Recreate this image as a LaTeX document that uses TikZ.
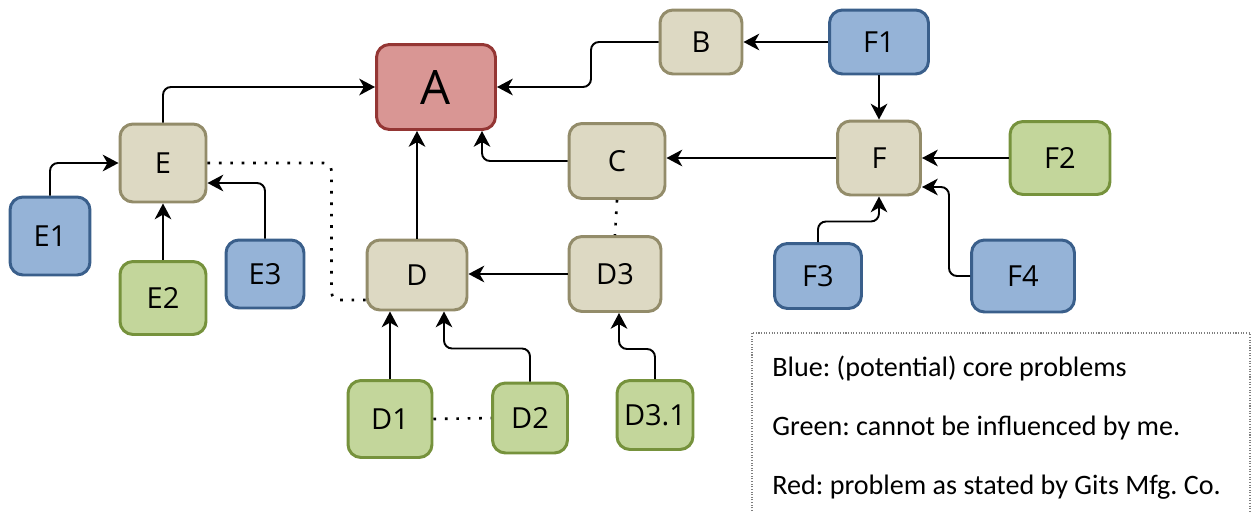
\documentclass[tikz,border=0pt]{standalone}
\usepackage{fontspec}
\setmainfont{Open Sans}
\newfontfamily\legendfont{Carlito}
\frenchspacing
\usepackage{xcolor}
\definecolor{rcaTan}{HTML}{DDD9C3}
\definecolor{rcaTanBorder}{HTML}{938C6A}
\definecolor{rcaBlue}{HTML}{95B3D7}
\definecolor{rcaBlueBorder}{HTML}{3A5F8B}
\definecolor{rcaGreen}{HTML}{C3D69B}
\definecolor{rcaGreenBorder}{HTML}{76923C}
\definecolor{rcaRed}{HTML}{D99694}
\definecolor{rcaRedBorder}{HTML}{943634}
\definecolor{rcaGray}{HTML}{7F7F7F}
\usepackage{tikz}
\usetikzlibrary{arrows.meta,calc}
\tikzset{
    basic/.style={
        draw=rcaTanBorder,
        fill=rcaTan,
        rectangle,
        rounded corners=2.6mm,
        align=center,
        inner sep=0pt,
        line width=1.7pt,
        font=\fontsize{16.5}{18}\selectfont
    },
    core/.style={
        basic,
        draw=rcaBlueBorder,
        fill=rcaBlue
    },
    external/.style={
        basic,
        draw=rcaGreenBorder,
        fill=rcaGreen
    },
    problem/.style={
        basic,
        draw=rcaRedBorder,
        fill=rcaRed,
        font=\fontsize{27}{30}\selectfont
    },
    arrow/.style={
        -{Stealth[length=9pt,width=9.5pt,inset=2.7pt]},
        line width=1.1pt,
        rounded corners=1.6mm,
        color=black
    },
    link/.style={
        line width=1.5pt,
        dash pattern=on 1.5pt off 5pt,
        rounded corners=1.6mm
    },
    frame/.style={
        draw=rcaGray,
        line width=0.6pt,
        dash pattern=on 0.6pt off 0.9pt
    },
    legend/.style={
        font=\legendfont\fontsize{16}{18}\selectfont,
        anchor=west,
        inner sep=0pt
    }
}

\begin{document}
\begin{tikzpicture}[x=0.02cm, y=-0.02cm]
    \useasboundingbox (0,0) rectangle (1251,511);

    \node[problem, minimum width=2.38cm, minimum height=1.70cm] (A) at (436,87) {A};
    \node[basic, minimum width=1.64cm, minimum height=1.28cm] (B) at (701,42) {B};
    \node[core, minimum width=1.98cm, minimum height=1.28cm] (F1) at (879,42) {F1};
    \node[basic, minimum width=1.72cm, minimum height=1.56cm] (E) at (163,163) {E};
    \node[basic, minimum width=1.92cm, minimum height=1.50cm] (C) at (617,161) {C};
    \node[basic, minimum width=1.66cm, minimum height=1.48cm] (F) at (879,158) {F};
    \node[external, minimum width=2.00cm, minimum height=1.46cm] (F2) at (1060,158) {F2};
    \node[core, minimum width=1.60cm, minimum height=1.56cm] (E1) at (50,236) {E1};
    \node[external, minimum width=1.72cm, minimum height=1.46cm] (E2) at (163,298) {E2};
    \node[core, minimum width=1.56cm, minimum height=1.36cm] (E3) at (265,274) {E3};
    \node[basic, minimum width=2.00cm, minimum height=1.40cm] (D) at (417,275) {D};
    \node[basic, minimum width=1.84cm, minimum height=1.50cm] (D3) at (615,274) {D3};
    \node[core, minimum width=1.74cm, minimum height=1.30cm] (F3) at (818,276) {F3};
    \node[core, minimum width=2.06cm, minimum height=1.44cm] (F4) at (1023,276) {F4};
    \node[external, minimum width=1.68cm, minimum height=1.54cm] (D1) at (390,419) {D1};
    \node[external, minimum width=1.50cm, minimum height=1.40cm] (D2) at (530,418) {D2};
    \node[external, minimum width=1.52cm, minimum height=1.38cm] (D31) at (655,415) {D3.1};

    \draw[arrow] (E.north) |- (A.west);
    \draw[arrow] (B.west) -| ($(A.east)+(94,-20)$) |- (A.east);
    \draw[arrow] (F1.west) -- (B.east);
    \draw[arrow] (F1.south) -- (F.north);
    \draw[arrow] (C.west) -| ($(A.south)+(46,0)$);
    \draw[arrow] (D.north) -- (D.north |- A.south);
    \draw[arrow] (F.west) -- (F.west -| C.east);
    \draw[arrow] (F2.west) -- (F.east);
    \draw[arrow] (F3.north) |- ($(F.south)+(0,25)$) -- (F.south);
    \draw[arrow] (F4.west) -| ($(F.east)+(27,29)$) -- ($(F.east)+(0,29)$);
    \draw[arrow] (E1.north) |- (E.west);
    \draw[arrow] (E2.north) -- (E.south);
    \draw[arrow] (E3.north) |- ($(E.east)+(0,20)$);
    \draw[arrow] (D3.west) -- (D3.west -| D.east);
    \draw[arrow] (D1.north) -- (D1.north |- D.south);
    \draw[arrow] (D2.north) |- ($(D.south)+(27,37)$) -- ($(D.south)+(27,0)$);
    \draw[arrow] (D31.north) |- ($(D3.south)+(4,36)$) -- ($(D3.south)+(4,0)$);

    \draw[link] (E.east) -| ($(D.west)+(-34,25)$) -- ($(D.west)+(0,25)$);
    \draw[link] (C.south) -- (D3.north);
    \draw[link] (D1.east) -- (D2.west);

    \draw[frame] (752,511) |- (1250,333) -- (1250,511);
    \node[legend] (blue) at (772,368) {Blue: (potential) core problems};
    \node[legend] (green) at (772,428) {Green: cannot be influenced by me.};
    \node[legend] (red) at (772,487) {Red: problem as stated by Gits Mfg. Co.};
\end{tikzpicture}
\end{document}
